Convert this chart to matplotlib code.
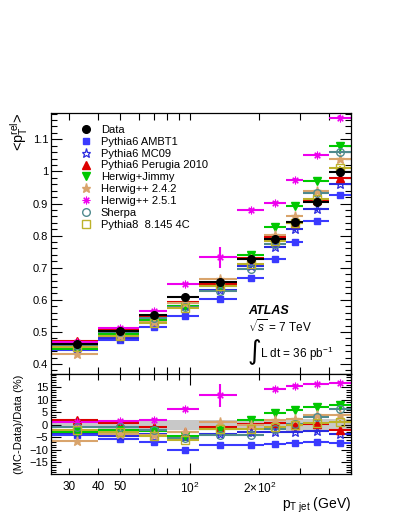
import matplotlib
matplotlib.use('Agg')
import matplotlib.pyplot as plt
import numpy as np
from matplotlib.lines import Line2D
from matplotlib.ticker import FixedLocator, FuncFormatter, MultipleLocator, NullFormatter

plt.rcParams['font.family'] = ['Liberation Sans', 'DejaVu Sans']
plt.rcParams['mathtext.fontset'] = 'custom'
plt.rcParams['mathtext.rm'] = 'Liberation Sans'
plt.rcParams['mathtext.it'] = 'Liberation Sans:italic'
plt.rcParams['mathtext.bf'] = 'Liberation Sans:bold'

# pT jet bins (GeV)
edges = np.array([25, 40, 60, 80, 110, 160, 210, 260, 310, 400, 500])

# data <pT rel> and its relative uncertainty (%)
data = np.array([0.462, 0.504, 0.553, 0.610, 0.655, 0.726, 0.788, 0.842, 0.905, 0.999])
data_err = np.array([0.004, 0.004, 0.004, 0.004, 0.005, 0.005, 0.005, 0.006, 0.006, 0.007])
band = np.array([1.2, 1.5, 1.8, 2.0, 2.0, 2.0, 2.2, 2.4, 2.5, 2.5])

# (MC-Data)/Data in %
ambt1    = np.array([-4.2, -5.5, -7.0, -9.9, -8.0, -7.9, -7.8, -7.2, -6.7, -7.3])
mc09     = np.array([-3.2, -4.5, -3.5, -5.0, -3.7, -3.0, -2.8, -2.7, -2.6, -3.7])
perugia  = np.array([2.0, 0.7, -0.9, -2.9, -0.7, 0.4, 0.9, -0.2, 0.5, -2.0])
jimmy    = np.array([-3.0, -2.2, -2.6, -4.6, -1.7, 1.8, 4.8, 5.9, 7.2, 8.0])
hpp242   = np.array([-6.6, -3.5, -3.9, -3.0, 1.3, 0.0, 1.9, 2.4, 3.8, 3.9])
hpp251   = np.array([1.3, 1.6, 2.0, 6.2, 11.8, 21.0, 14.4, 15.7, 16.3, 16.8])
sherpa   = np.array([-0.9, -0.9, -2.0, -5.2, -4.0, -4.2, -1.8, 0.2, 3.1, 6.2])
pythia8  = np.array([-2.0, -3.0, -4.3, -5.9, -1.8, -1.8, -0.7, -0.2, 0.9, 1.3])

hpp251_err = np.array([0.5, 0.5, 0.6, 0.8, 4.6, 0.8, 0.6, 0.6, 0.6, 0.7])
perugia_err = np.array([0.5, 0.5, 0.5, 0.5, 0.6, 0.6, 0.6, 0.6, 0.7, 1.5])

labels = ['Data', 'Pythia6 AMBT1', 'Pythia6 MC09', 'Pythia6 Perugia 2010',
          'Herwig+Jimmy', 'Herwig++ 2.4.2', 'Herwig++ 2.5.1', 'Sherpa',
          'Pythia8  8.145 4C']

# (ratio, label, colour, marker, size, filled, edge width, ratio error)
mcs = [
    (ambt1, labels[1], '#3a3aff', 's', 5.0, True, 1.0, None),
    (mc09, labels[2], '#2b2be0', '*', 6.5, False, 0.9, None),
    (perugia, labels[3], '#dd0000', '^', 5.5, True, 1.0, perugia_err),
    (jimmy, labels[4], '#00c800', 'v', 5.5, True, 1.0, None),
    (hpp242, labels[5], '#d9a46c', '*', 6.5, True, 1.0, None),
    (hpp251, labels[6], '#ee00ee', (8, 2, 0), 5.5, True, 0.8, hpp251_err),
    (sherpa, labels[7], '#4f8a8e', 'o', 5.5, False, 1.0, None),
    (pythia8, labels[8], '#bdb22a', 's', 5.5, False, 1.0, None),
]

xc = 0.5 * (edges[:-1] + edges[1:])
xlo = xc - edges[:-1]
xhi = edges[1:] - xc

fig = plt.figure(figsize=(3.99, 5.16), dpi=100)
ax = fig.add_axes([0.1278, 0.2752, 0.7519, 0.5058])
ax2 = fig.add_axes([0.1278, 0.0814, 0.7519, 0.1938])

rlim = (-19.6, 20.3)
ax2.bar(edges[:-1], 2 * band, bottom=-band, width=np.diff(edges), align='edge',
        color='#c8c8c8', zorder=1)

handles = [Line2D([], [], ls='none', marker='o', color='k', ms=5.5)]
for r, lab, col, mk, ms, filled, mew, rerr in mcs:
    if rerr is None:
        rerr = np.full(len(r), 0.5)
    fc = col if filled else 'none'
    mc = data * (1 + r / 100.)
    ax.errorbar(xc, mc, xerr=[xlo, xhi], yerr=mc * rerr / 100., fmt='none',
                ecolor=col, elinewidth=1.5, capsize=0, zorder=2)
    ax.plot(xc, mc, ls='none', marker=mk, ms=ms, mfc=fc, mec=col, mew=mew, zorder=3)
    inr = r < rlim[1]
    ax2.errorbar(xc[inr], r[inr], xerr=[xlo[inr], xhi[inr]], yerr=rerr[inr], fmt='none',
                 ecolor=col, elinewidth=1.5, capsize=0, zorder=2)
    ax2.plot(xc[inr], r[inr], ls='none', marker=mk, ms=ms, mfc=fc, mec=col, mew=mew, zorder=3)
    handles.append(Line2D([], [], ls='none', marker=mk, ms=ms, mfc=fc, mec=col, mew=mew))

ax.errorbar(xc, data, xerr=[xlo, xhi], yerr=data_err, fmt='o', color='k', ms=5.5,
            elinewidth=1.5, capsize=0, zorder=5)

for a in (ax, ax2):
    a.set_xscale('log')
    a.set_xlim(25, 500)
    a.xaxis.set_major_locator(FixedLocator([100]))
    a.xaxis.set_minor_locator(FixedLocator([30, 40, 50, 60, 70, 80, 90, 200, 300, 400, 500]))
    a.tick_params(which='both', direction='in', top=True, right=True, width=0.8)
    a.tick_params(which='major', length=8)
    a.tick_params(which='minor', length=4)
    for s in a.spines.values():
        s.set_linewidth(0.9)

ax.set_ylim(0.369, 1.182)
ax.yaxis.set_major_locator(MultipleLocator(0.1))
ax.yaxis.set_minor_locator(MultipleLocator(0.02))
ax.yaxis.set_major_formatter(FuncFormatter(lambda v, p: '%g' % round(v, 2)))
ax.xaxis.set_major_formatter(NullFormatter())
ax.xaxis.set_minor_formatter(NullFormatter())
ax.tick_params(axis='y', labelsize=8, pad=2)
ax.tick_params(axis='x', which='both', length=5)

ax2.set_ylim(*rlim)
ax2.yaxis.set_major_locator(FixedLocator([-15, -10, -5, 0, 5, 10, 15]))
ax2.yaxis.set_minor_locator(MultipleLocator(1))
ax2.tick_params(axis='y', labelsize=8, pad=2)
ax2.tick_params(axis='y', which='major', length=7)
ax2.tick_params(axis='y', which='minor', length=3.5)
ax2.xaxis.set_major_formatter(FuncFormatter(lambda v, p: r'$10^{2}$'))
ax2.xaxis.set_minor_formatter(FuncFormatter(
    lambda v, p: {30: '30', 40: '40', 50: '50', 200: r'$2\!\times\!10^{2}$'}.get(int(round(v)), '')))
ax2.tick_params(axis='x', which='both', labelsize=8.5, pad=5)

ax.set_ylabel(r'<p$_{\rm T}^{\rm rel}$>', fontsize=10.5, loc='top')
ax.yaxis.set_label_coords(-0.07, 1.0)
ax2.set_ylabel('(MC-Data)/Data (%)', fontsize=8)
ax2.yaxis.set_label_coords(-0.09, 0.5)
ax2.set_xlabel(r'p$_{\rm T\ jet}$ (GeV)', fontsize=10, loc='right', labelpad=0)

ax.legend(handles, labels, loc='upper left', bbox_to_anchor=(0.099, 0.955),
          frameon=False, fontsize=8, handlelength=1.0, handletextpad=0.8,
          labelspacing=0.17, borderpad=0, borderaxespad=0)

ax.text(0.657, 0.243, 'ATLAS', transform=ax.transAxes, fontsize=9,
        fontweight='bold', fontstyle='italic', va='center')
ax.text(0.657, 0.181, r'$\sqrt{s}$ = 7 TeV', transform=ax.transAxes, fontsize=8.5, va='center')
ax.text(0.655, 0.085, '\u222b', transform=ax.transAxes, fontsize=19, va='center',
        family=['DejaVu Sans'])
ax.text(0.697, 0.077, r'L dt = 36 pb$^{-1}$', transform=ax.transAxes, fontsize=8.5, va='center')

fig.savefig('out.png', dpi=100)
